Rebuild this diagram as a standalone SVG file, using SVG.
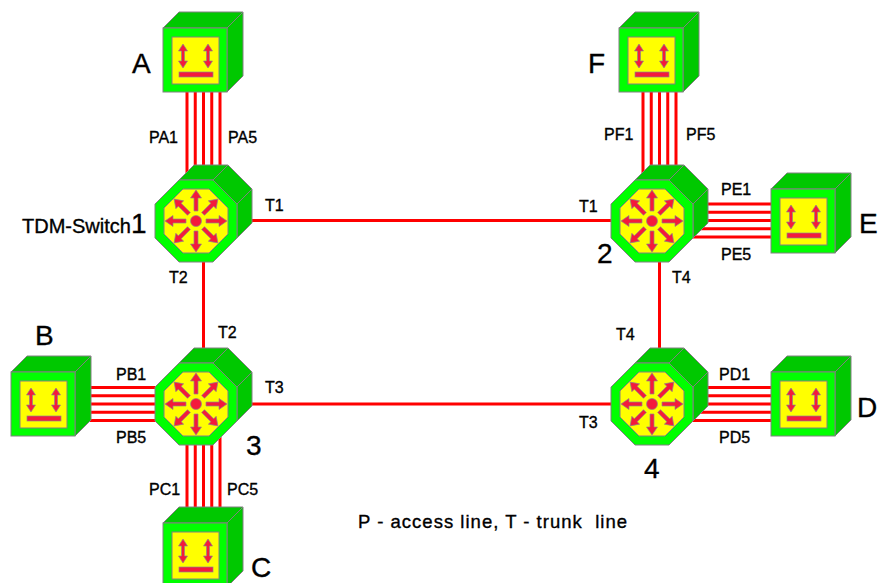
<svg xmlns="http://www.w3.org/2000/svg" xmlns:xlink="http://www.w3.org/1999/xlink" width="879" height="583" viewBox="0 0 879 583">
<style>
.lt{fill:#00ff00;stroke:#808080;stroke-width:1}
.dk{fill:#00c800;stroke:#808080;stroke-width:1;stroke-linejoin:round}
.yl{fill:#ffff00;stroke:#808080;stroke-width:1}
.ar{fill:#f41a3c;stroke:#8a8a8a;stroke-width:0.7}
.ln{stroke:#ff0000;stroke-width:3;fill:none}
text{font-family:"Liberation Sans",Arial,sans-serif;fill:#000;stroke:#000;stroke-width:0.35}
.sm{font-size:16px}
.big{font-size:28px}
</style>
<defs>
<g id="term">
<polygon class="dk" points="0,0 16,-16 80,-16 64,0"/>
<polygon class="dk" points="64,0 80,-16 80,48 64,64"/>
<rect class="lt" x="0" y="0" width="64" height="64"/>
<rect class="yl" x="9" y="9" width="47" height="47"/>
<path class="ar" d="M20,16 L24.5,23 L21.5,23 L21.5,33 L24.5,33 L20,40 L15.5,33 L18.5,33 L18.5,23 L15.5,23 Z"/>
<path class="ar" d="M45,16 L49.5,23 L46.5,23 L46.5,33 L49.5,33 L45,40 L40.5,33 L43.5,33 L43.5,23 L40.5,23 Z"/>
<rect class="ar" x="16" y="44" width="34" height="5"/>
</g>
<path id="ray" class="ar" d="M-2,-10 L-2,-23 L-5.5,-23 L0,-31 L5.5,-23 L2,-23 L2,-10 Z"/>
<g id="sw">
<polygon class="dk" points="-17,-41 17,-41 32,-56 -2,-56"/>
<polygon class="dk" points="17,-41 41,-17 56,-32 32,-56"/>
<polygon class="dk" points="41,-17 41,17 56,2 56,-32"/>
<polygon class="lt" points="-17,-41 17,-41 41,-17 41,17 17,41 -17,41 -41,17 -41,-17"/>
<polygon class="yl" points="-13,-32 13,-32 32,-13 32,13 13,32 -13,32 -32,13 -32,-13"/>
<use xlink:href="#ray"/>
<use xlink:href="#ray" transform="rotate(45)"/>
<use xlink:href="#ray" transform="rotate(90)"/>
<use xlink:href="#ray" transform="rotate(135)"/>
<use xlink:href="#ray" transform="rotate(180)"/>
<use xlink:href="#ray" transform="rotate(225)"/>
<use xlink:href="#ray" transform="rotate(270)"/>
<use xlink:href="#ray" transform="rotate(315)"/>
<circle class="ar" cx="0" cy="0" r="5.5"/>
</g>
</defs>

<g id="connectors">
<g class="ln">
<path d="M187,60V221M195.25,60V221M203.5,60V221M211.75,60V221M220,60V221"/>
<path d="M187,404V555M195.25,404V555M203.5,404V555M211.75,404V555M220,404V555"/>
<path d="M643,60V221M651.25,60V221M659.5,60V221M667.75,60V221M676,60V221"/>
<path d="M43,387.5H196M43,395.75H196M43,404H196M43,412.25H196M43,420.5H196"/>
<path d="M652,387.5H803M652,395.75H803M652,404H803M652,412.25H803M652,420.5H803"/>
<path d="M652,204H803M652,212.25H803M652,220.5H803M652,228.75H803M652,237H803"/>
<path d="M196,220.5H652"/>
<path d="M203.5,221V404"/>
<path d="M196,404H652"/>
<path d="M659.5,221V404"/>
</g>
</g>

<g id="connector-labels" class="sm">
<text x="178" y="143" text-anchor="end">PA1</text>
<text x="228" y="143">PA5</text>
<text x="604" y="140">PF1</text>
<text x="686" y="140">PF5</text>
<text x="721" y="195">PE1</text>
<text x="721" y="260">PE5</text>
<text x="719" y="380">PD1</text>
<text x="719" y="443">PD5</text>
<text x="116" y="380">PB1</text>
<text x="116" y="443">PB5</text>
<text x="149" y="495">PC1</text>
<text x="227" y="495">PC5</text>
<text x="265" y="211">T1</text>
<text x="579" y="212">T1</text>
<text x="169" y="283">T2</text>
<text x="218" y="338">T2</text>
<text x="265" y="393">T3</text>
<text x="579" y="428">T3</text>
<text x="672" y="283">T4</text>
<text x="616" y="340">T4</text>
</g>

<g id="A"><use xlink:href="#term" x="163" y="28"/><text class="big" x="132" y="73">A</text></g>
<g id="F"><use xlink:href="#term" x="619" y="28"/><text class="big" x="588" y="73">F</text></g>
<g id="B"><use xlink:href="#term" x="11" y="372"/><text class="big" x="35" y="345">B</text></g>
<g id="C"><use xlink:href="#term" x="163" y="523"/><text class="big" x="251" y="577">C</text></g>
<g id="D"><use xlink:href="#term" x="771" y="372"/><text class="big" x="857" y="417">D</text></g>
<g id="E"><use xlink:href="#term" x="771" y="189"/><text class="big" x="859" y="233">E</text></g>

<g id="switch1"><use xlink:href="#sw" x="196" y="221"/><text x="22" y="233"><tspan font-size="20">TDM-Switch</tspan><tspan font-size="28">1</tspan></text></g>
<g id="switch2"><use xlink:href="#sw" x="652" y="221"/><text class="big" x="597" y="263">2</text></g>
<g id="switch3"><use xlink:href="#sw" x="196" y="404"/><text class="big" x="246" y="455">3</text></g>
<g id="switch4"><use xlink:href="#sw" x="652" y="404"/><text class="big" x="644" y="478">4</text></g>

<text x="358" y="528" font-size="18.5" textLength="269" lengthAdjust="spacing" xml:space="preserve" style="white-space:pre">P - access line, T - trunk  line</text>
</svg>
